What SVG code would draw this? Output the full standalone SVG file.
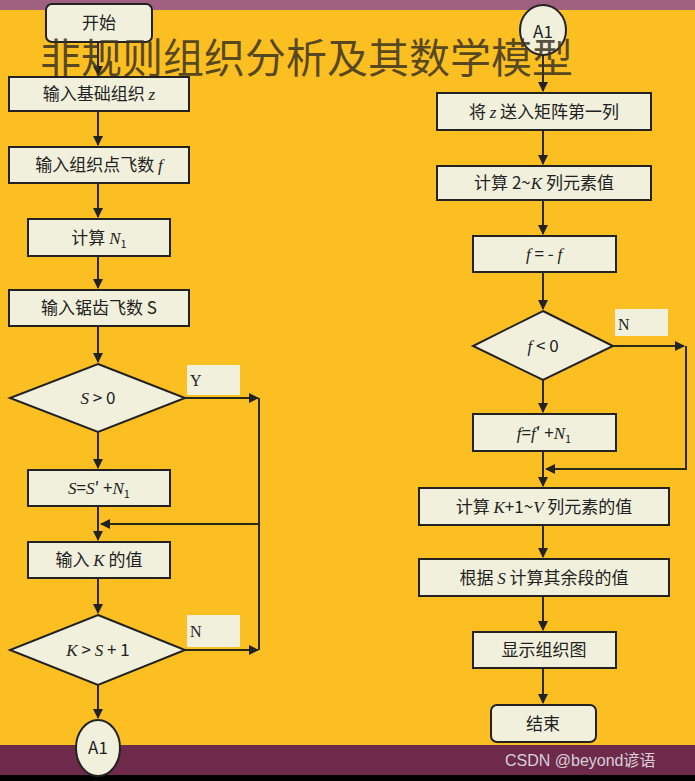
<svg xmlns="http://www.w3.org/2000/svg" width="695" height="781" viewBox="0 0 695 781">
<defs>
<style>
.b{fill:#F1F0DC;stroke:#222;stroke-width:2}
.l{fill:#F1F0DC;stroke:none}
.c{stroke:#2a2a1a;stroke-width:2;fill:none}
.t{font-family:"Noto Sans CJK SC","Liberation Serif",serif;font-size:17px;fill:#222;text-anchor:middle}
.m{font-family:"Liberation Serif",serif;font-style:italic}
.n{font-family:"Liberation Serif",serif;font-size:16px;fill:#222}
</style>
<marker id="a" viewBox="0 0 10 10" refX="9" refY="5" markerWidth="5" markerHeight="5" orient="auto"><path d="M0,0L10,5L0,10z" fill="#222"/></marker>
</defs>
<rect width="695" height="781" fill="#FBBF22"/>
<rect width="695" height="10" fill="#A0607F"/>
<rect y="745" width="695" height="30" fill="#6E2A4A"/>
<rect y="775" width="695" height="6" fill="#000"/>
<g id="connectors" class="c">
<path d="M98,42V75" marker-end="url(#a)"/>
<path d="M98,111V145" marker-end="url(#a)"/>
<path d="M98,183V217" marker-end="url(#a)"/>
<path d="M98,256V288" marker-end="url(#a)"/>
<path d="M98,326V362" marker-end="url(#a)"/>
<path d="M98,432V468" marker-end="url(#a)"/>
<path d="M98,506V540" marker-end="url(#a)"/>
<path d="M98,578V613" marker-end="url(#a)"/>
<path d="M98,685V718" marker-end="url(#a)"/>
<path d="M185,398H258" marker-end="url(#a)"/>
<path d="M185,650H258" marker-end="url(#a)"/>
<path d="M259,398V650M259,524H101" marker-end="url(#a)"/>
<path d="M543,55V91" marker-end="url(#a)"/>
<path d="M543,130V164" marker-end="url(#a)"/>
<path d="M543,200V234" marker-end="url(#a)"/>
<path d="M543,272V309" marker-end="url(#a)"/>
<path d="M543,380V412" marker-end="url(#a)"/>
<path d="M543,451V486" marker-end="url(#a)"/>
<path d="M543,525V557" marker-end="url(#a)"/>
<path d="M543,596V630" marker-end="url(#a)"/>
<path d="M543,668V703" marker-end="url(#a)"/>
<path d="M613,346H684" marker-end="url(#a)"/>
<path d="M686,346V469H546" marker-end="url(#a)"/>
</g>
<g id="start"><rect class="b" x="46" y="4" width="106" height="38" rx="6"/><text class="t" x="99" y="29">开始</text></g>
<g id="a1t"><ellipse class="b" cx="543" cy="30" rx="23" ry="25"/><text class="t" x="543" y="38">A1</text></g>
<text x="40" y="73" font-family="Noto Sans CJK SC,sans-serif" font-size="41" fill="#3a3320" fill-opacity="0.85">非规则组织分析及其数学模型</text>
<g id="n1"><rect class="b" x="9" y="77" width="180" height="34"/><text class="t" x="99" y="100">输入基础组织 <tspan class="m">z</tspan></text></g>
<g id="n2"><rect class="b" x="9" y="147" width="180" height="36"/><text class="t" x="99" y="171">输入组织点飞数 <tspan class="m">f</tspan></text></g>
<g id="n3"><rect class="b" x="28" y="219" width="142" height="37"/><text class="t" x="99" y="244">计算 <tspan class="m">N</tspan><tspan font-size="11" dy="4">1</tspan></text></g>
<g id="n4"><rect class="b" x="9" y="290" width="180" height="36"/><text class="t" x="99" y="314">输入锯齿飞数 S</text></g>
<g id="d1"><path class="b" d="M98,364L185,398L98,432L10,398z"/><text class="t" x="98" y="404"><tspan class="m">S</tspan> &gt; 0</text></g>
<g id="ly"><rect class="l" x="187" y="365" width="53" height="30"/><text class="n" x="190" y="386">Y</text></g>
<g id="n5"><rect class="b" x="28" y="470" width="142" height="36"/><text class="t" x="99" y="494"><tspan class="m">S</tspan>=<tspan class="m">S</tspan>′ +<tspan class="m">N</tspan><tspan font-size="11" dy="4">1</tspan></text></g>
<g id="n6"><rect class="b" x="28" y="542" width="142" height="36"/><text class="t" x="99" y="566">输入 <tspan class="m">K</tspan> 的值</text></g>
<g id="d2"><path class="b" d="M98,615L185,650L98,685L10,650z"/><text class="t" x="98" y="656"><tspan class="m">K</tspan> &gt; <tspan class="m">S</tspan> + 1</text></g>
<g id="ln1"><rect class="l" x="187" y="615" width="53" height="32"/><text class="n" x="190" y="637">N</text></g>
<g id="a1b"><ellipse class="b" cx="98" cy="748" rx="22" ry="28"/><text class="t" x="98" y="754">A1</text></g>
<g id="r1"><rect class="b" x="437" y="93" width="214" height="37"/><text class="t" x="544" y="118">将 <tspan class="m">z</tspan> 送入矩阵第一列</text></g>
<g id="r2"><rect class="b" x="437" y="166" width="214" height="34"/><text class="t" x="544" y="189">计算 2~<tspan class="m">K</tspan> 列元素值</text></g>
<g id="r3"><rect class="b" x="473" y="236" width="143" height="36"/><text class="t" x="544" y="260"><tspan class="m">f</tspan> = - <tspan class="m">f</tspan></text></g>
<g id="d3"><path class="b" d="M543,311L613,346L543,380L473,346z"/><text class="t" x="543" y="352"><tspan class="m">f</tspan> &lt; 0</text></g>
<g id="ln2"><rect class="l" x="615" y="309" width="53" height="27"/><text class="n" x="618" y="330">N</text></g>
<g id="r4"><rect class="b" x="473" y="414" width="143" height="37"/><text class="t" x="544" y="439"><tspan class="m">f</tspan>=<tspan class="m">f</tspan>′ +<tspan class="m">N</tspan><tspan font-size="11" dy="4">1</tspan></text></g>
<g id="r5"><rect class="b" x="419" y="488" width="250" height="37"/><text class="t" x="544" y="513">计算 <tspan class="m">K</tspan>+1~<tspan class="m">V</tspan> 列元素的值</text></g>
<g id="r6"><rect class="b" x="419" y="559" width="250" height="37"/><text class="t" x="544" y="584">根据 <tspan class="m">S</tspan> 计算其余段的值</text></g>
<g id="r7"><rect class="b" x="473" y="632" width="143" height="36"/><text class="t" x="544" y="656">显示组织图</text></g>
<g id="end"><rect class="b" x="491" y="705" width="105" height="37" rx="6"/><text class="t" x="543" y="730">结束</text></g>
<text x="505" y="766" font-family="Liberation Sans,Noto Sans CJK SC,sans-serif" font-size="16" fill="#d8d0d8">CSDN @beyond谚语</text>
</svg>
